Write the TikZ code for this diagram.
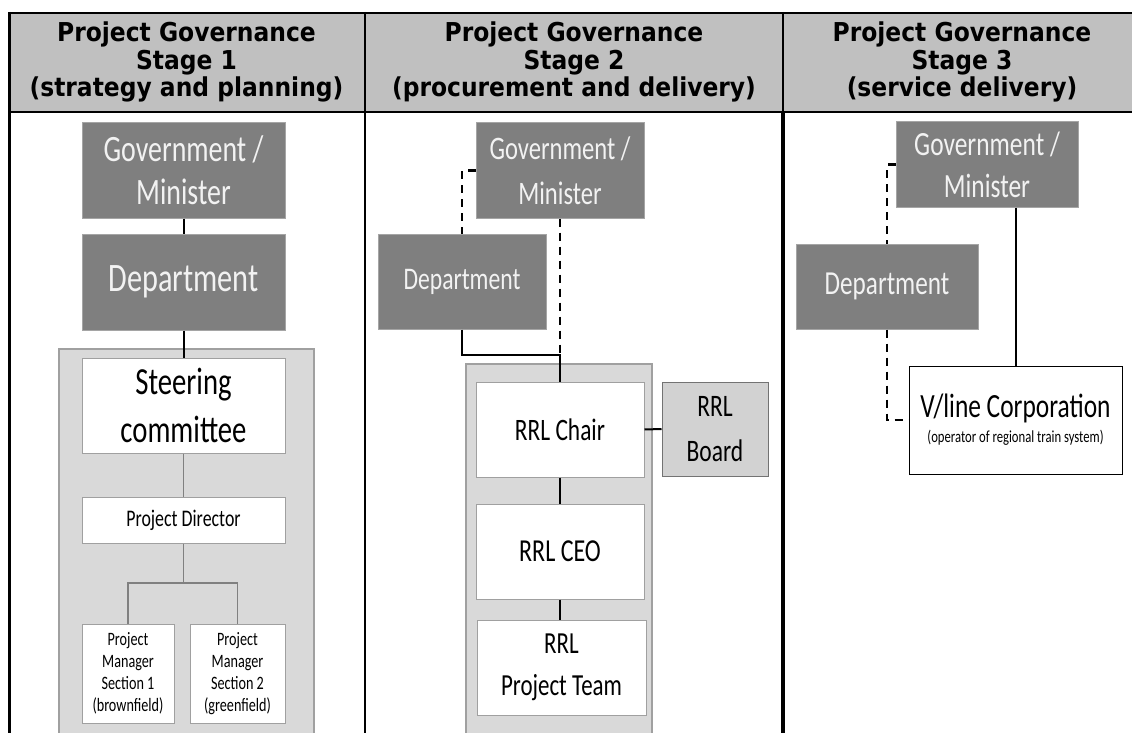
\documentclass[tikz,border=0pt]{standalone}
\usepackage{fontspec}
\setmainfont{Carlito}[FakeStretch=0.75]
\newfontfamily\hdrfont{DejaVu Sans}[FakeStretch=0.9]
\usetikzlibrary{calc}
\definecolor{hdrgrey}{RGB}{192,192,192}
\definecolor{boxdark}{RGB}{127,127,127}
\definecolor{boxedge}{RGB}{165,165,165}
\definecolor{grpfill}{RGB}{217,217,217}
\definecolor{grpedge}{RGB}{160,160,160}
\definecolor{boardfill}{RGB}{210,210,210}
\definecolor{txtlight}{RGB}{242,242,242}
\newcommand{\boxfs}[2]{\fontsize{#1}{#2}\selectfont}
\tikzset{
  hdr/.style={anchor=base, inner sep=0pt, font=\hdrfont\bfseries\boxfs{26}{27.5}},
  darkbox/.style={rectangle, fill=boxdark, draw=boxedge, line width=1pt,
                  text=txtlight, align=center, inner sep=0pt},
  whitebox/.style={rectangle, fill=white, draw=grpedge, line width=1pt,
                   text=black, align=center, inner sep=0pt},
  grpbox/.style={rectangle, fill=grpfill, draw=grpedge, line width=1.5pt, inner sep=0pt},
  boardbox/.style={rectangle, fill=boardfill, draw=black!55, line width=1pt,
                   align=center, inner sep=0pt},
  vlbox/.style={rectangle, fill=white, draw=black, line width=0.8pt,
                align=center, inner sep=0pt},
  link/.style={line width=2pt, black},
  linkgrey/.style={line width=1.5pt, black!50},
  dashlink/.style={line width=2.2pt, black, dash pattern=on 8pt off 6pt},
  tablerule/.style={line width=2pt, black},
}
\begin{document}
\begin{tikzpicture}[x=1pt, y=-1pt]
  \useasboundingbox (0,0) rectangle (1132,733);
  % table header and rules
  \fill[hdrgrey] (8,13) rectangle (1132,112);
  \draw[tablerule] (8,13) -- (1132,13);
  \draw[tablerule] (8,112) -- (1132,112);
  \draw[line width=3pt] (9,12) -- (9,733);
  \draw[tablerule] (365,12) -- (365,733);
  \draw[tablerule] (783,12) -- (783,112);
  \draw[line width=4pt] (783,112) -- (783,733);
  \foreach \cx/\n/\sub in {186.5/1/{(strategy and planning)},
                           574/2/{(procurement and delivery)},
                           962/3/{(service delivery)}} {
    \node[hdr] (h\n a) at (\cx,42) {Project Governance};
    \node[hdr] (h\n b) at (\cx,69.5) {Stage \n};
    \node[hdr] (h\n c) at (\cx,97) {\sub};
  }
  % stage 1
  \node[darkbox, minimum width=203pt, minimum height=95pt, font=\boxfs{37.2}{43}] (gov1) at (183.5,170.5) {Government /\\Minister};
  \node[darkbox, minimum width=203pt, minimum height=96pt, font=\boxfs{40.4}{44}] (dep1) at (183.5,282) {Department};
  \node[grpbox, minimum width=255pt, minimum height=396pt] (grp1) at (186.5,547) {};
  \node[whitebox, minimum width=203pt, minimum height=95pt, font=\boxfs{38.3}{48}] (steer1) at (183.5,405.5) {Steering\\committee};
  \node[whitebox, minimum width=203pt, minimum height=46pt, font=\boxfs{23.8}{26}] (dir1) at (183.5,520) {Project Director};
  \node[whitebox, minimum width=92pt, minimum height=99pt, font=\boxfs{18.9}{22}] (pm1a) at (128,673.5) {Project\\Manager\\Section 1\\(brownfield)};
  \node[whitebox, minimum width=95pt, minimum height=99pt, font=\boxfs{18.9}{22}] (pm1b) at (237.5,673.5) {Project\\Manager\\Section 2\\(greenfield)};
  \coordinate (fork1) at (183.5,583);
  \draw[link] (gov1) -- (dep1);
  \draw[link] (dep1) -- (steer1);
  \draw[linkgrey] (steer1) -- (dir1);
  \draw[linkgrey] (dir1.south) -- (fork1) -| (pm1a.north);
  \draw[linkgrey] (fork1) -| (pm1b.north);
  % stage 2
  \node[darkbox, minimum width=168pt, minimum height=95pt, font=\boxfs{32.8}{45}] (gov2) at (560,170.5) {Government /\\Minister};
  \node[darkbox, minimum width=168pt, minimum height=95pt, font=\boxfs{31.5}{40}] (dep2) at (462,281.5) {Department};
  \node[grpbox, minimum width=186pt, minimum height=381pt] (grp2) at (559,554.5) {};
  \node[whitebox, minimum width=168pt, minimum height=95pt, font=\boxfs{31.2}{40}] (chair2) at (560,429.5) {RRL Chair};
  \node[whitebox, minimum width=168pt, minimum height=95pt, font=\boxfs{32}{40}] (ceo2) at (560,551.5) {RRL CEO};
  \node[whitebox, minimum width=169pt, minimum height=95pt, font=\boxfs{30.6}{42}] (team2) at (561.5,667.5) {RRL\\Project Team};
  \node[boardbox, minimum width=106pt, minimum height=94pt, font=\boxfs{31.3}{45}] (board2) at (715,429) {RRL\\Board};
  \coordinate (join2) at (560,355);
  \draw[dashlink] (gov2.west) -| (dep2.north);
  \draw[dashlink] (gov2.south) -- (chair2.north);
  \draw[link] (dep2.south) |- (join2) -- (chair2.north);
  \draw[link] (chair2) -- (ceo2);
  \draw[link] (ceo2.south) -- (ceo2.south |- team2.north);
  \draw[link] (chair2.east) -- (board2.west);
  % stage 3
  \node[darkbox, minimum width=182pt, minimum height=85pt, font=\boxfs{33.9}{42}] (gov3) at (987,164.5) {Government /\\Minister};
  \node[darkbox, minimum width=182pt, minimum height=85pt, font=\boxfs{33.6}{40}] (dep3) at (887,286.5) {Department};
  \node[vlbox, minimum width=213pt, minimum height=108pt, font=\boxfs{33.9}{25}] (vline3) at (1015.5,420) {V/line Corporation\\{\boxfs{16.9}{25}(operator of regional train system)}};
  \draw[dashlink] (gov3.west) -| (dep3.north);
  \draw[dashlink] (dep3.south) |- (vline3.west);
  \draw[link] (vline3.north |- gov3.south) -- (vline3.north);
\end{tikzpicture}
\end{document}
